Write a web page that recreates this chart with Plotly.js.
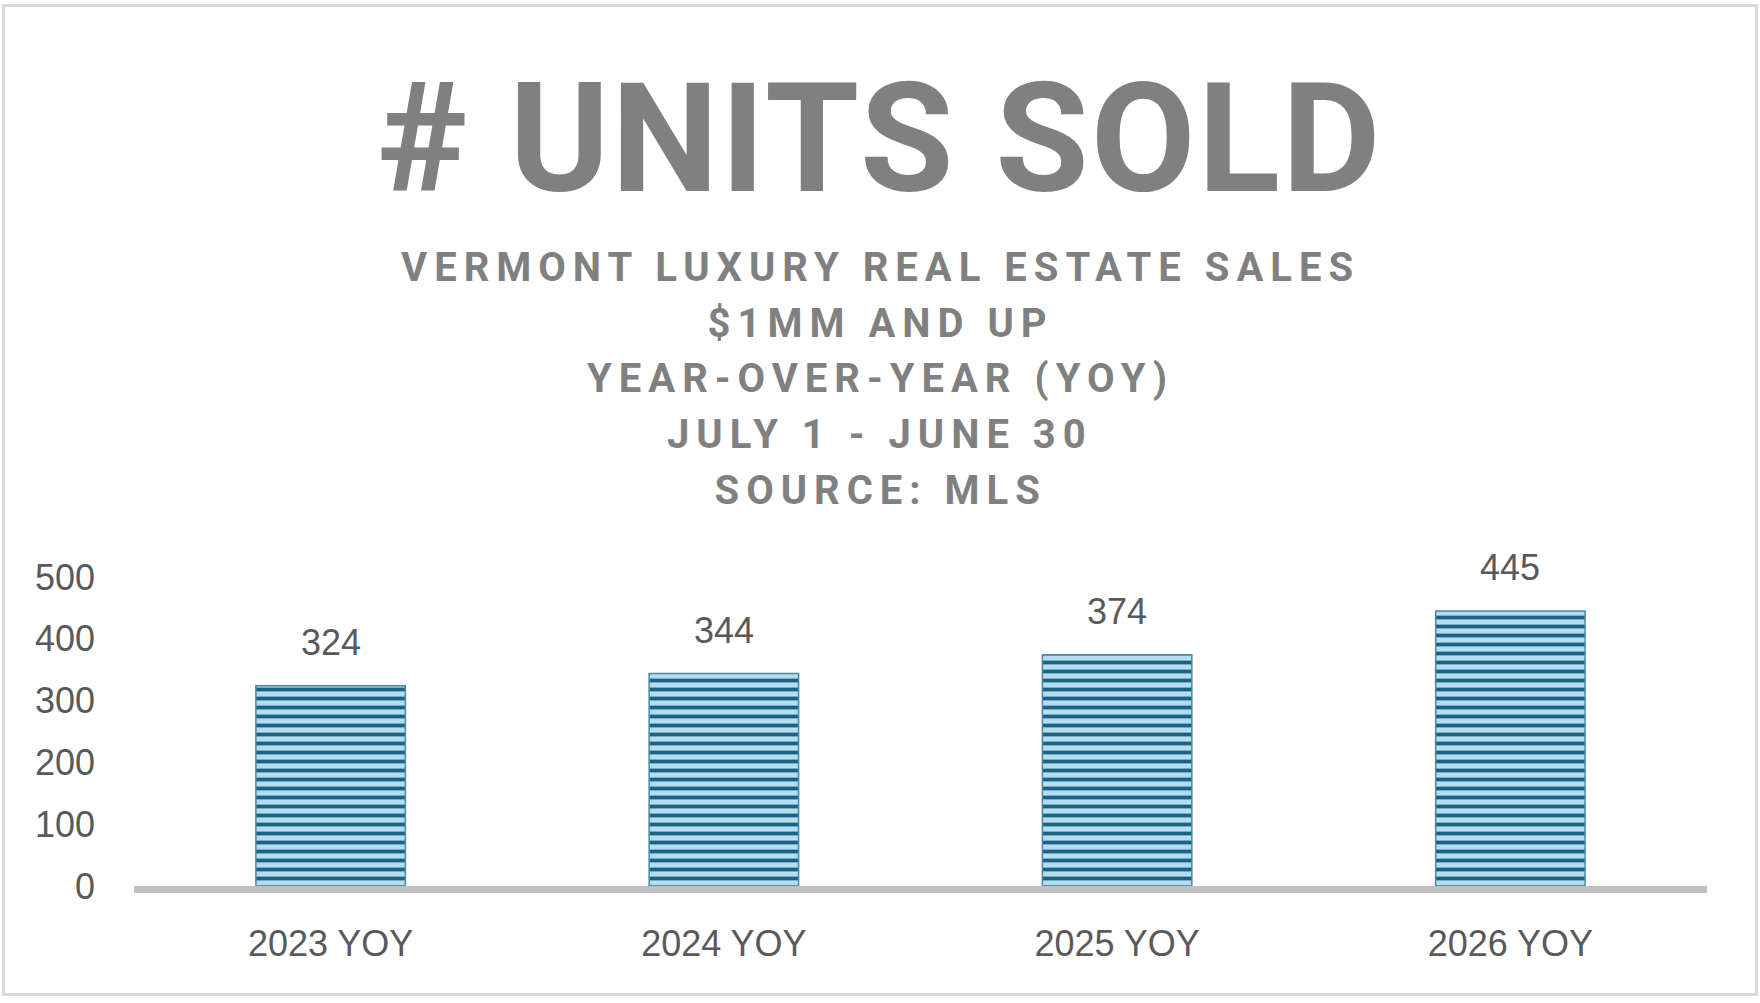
<!DOCTYPE html>
<html>
<head>
<meta charset="utf-8">
<script src="https://cdn.plot.ly/plotly-3.0.1.min.js"></script>
<style>
  body { margin: 0; background: #fff; }
  #graph { width: 1760px; height: 1003px; }
  #frame {
    position: absolute; left: 2px; top: 4px; width: 1756px; height: 992px;
    box-sizing: border-box; border: 3px solid #d9d9d9; pointer-events: none;
  }
  .gtitle { letter-spacing: 2px; }
  .annotation .annotation-text { letter-spacing: 7px; }
  .annotation[data-index="0"] .annotation-text,
  .annotation[data-index="1"] .annotation-text,
  .annotation[data-index="2"] .annotation-text,
  .annotation[data-index="3"] .annotation-text { letter-spacing: 0; }
</style>
</head>
<body>
<div id="graph"></div>
<div id="frame"></div>
<script>
// 데이터
var years = ['2023 YOY', '2024 YOY', '2025 YOY', '2026 YOY'];
var unitsSold = [324, 344, 374, 445];
var chartTitle = '# UNITS SOLD';
var subtitleLines = [
    'VERMONT LUXURY REAL ESTATE SALES',
    '$1MM AND UP',
    'YEAR-OVER-YEAR (YOY)',
    'JULY 1 - JUNE 30',
    'SOURCE: MLS'
];

var W = 1760, H = 1003;
var margin = { l: 134, r: 53, t: 577, b: 117, pad: 0 };
var plotW = W - margin.l - margin.r;
var plotH = H - margin.t - margin.b;

var textGray = '#595959';
var titleGray = '#808080';
var headFont = 'Roboto, "Liberation Sans", sans-serif';
var bodyFont = '"Liberation Sans", Arial, sans-serif';

var bars = {
    x: years,
    y: unitsSold,
    type: 'bar',
    width: 0.38,
    marker: {
        color: '#b3dcec',
        line: { color: '#4a88a6', width: 1.5 },
        pattern: {
            shape: '-',
            fillmode: 'replace',
            bgcolor: '#b5ddee',
            fgcolor: '#1a6286',
            size: 9,
            solidity: 0.42
        }
    },
    hoverinfo: 'skip'
};

// 데이터 라벨 (막대 위)
var annotations = unitsSold.map(function (v, i) {
    return {
        x: years[i], y: v, xref: 'x', yref: 'y',
        text: String(v), showarrow: false,
        yanchor: 'middle', yshift: 43,
        font: { family: bodyFont, size: 36, color: textGray }
    };
});

// 부제목 줄
var centerX = (W / 2 - margin.l) / plotW;
subtitleLines.forEach(function (line, i) {
    var yPix = 267.5 + i * 55.7;
    annotations.push({
        x: centerX, y: (H - margin.b - yPix) / plotH,
        xref: 'paper', yref: 'paper',
        xanchor: 'center', yanchor: 'middle',
        text: line, showarrow: false,
        font: { family: headFont, size: 40, weight: 'bold', color: titleGray }
    });
});

var layout = {
    width: W, height: H,
    margin: margin,
    paper_bgcolor: '#ffffff',
    plot_bgcolor: '#ffffff',
    showlegend: false,
    title: {
        text: chartTitle,
        x: 0.5, xref: 'container', xanchor: 'center',
        y: 1 - 138 / H, yref: 'container', yanchor: 'middle',
        font: { family: headFont, size: 152, weight: 'bold', color: titleGray }
    },
    xaxis: {
        type: 'category',
        showline: true, linecolor: '#c0c0c0', linewidth: 7,
        showgrid: false, zeroline: false, ticks: '',
        ticklabelstandoff: 20,
        tickfont: { family: bodyFont, size: 36, color: textGray }
    },
    yaxis: {
        range: [0, 500], dtick: 100,
        showline: false, showgrid: false, zeroline: false, ticks: '',
        ticklabelstandoff: 38,
        tickfont: { family: bodyFont, size: 36, color: textGray }
    },
    annotations: annotations
};

Plotly.newPlot('graph', [bars], layout, { staticPlot: true });
</script>
</body>
</html>
